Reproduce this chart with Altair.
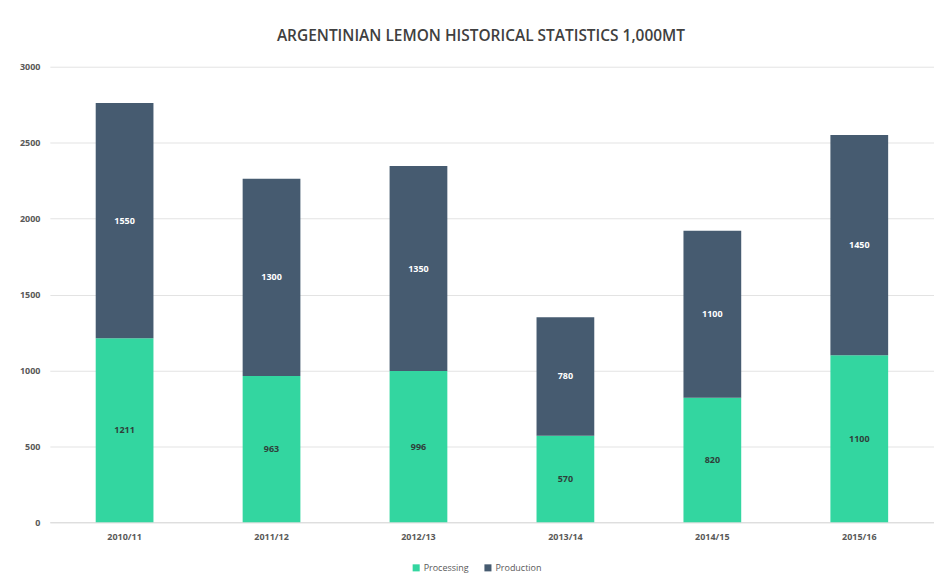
import altair as alt
import pandas as pd

seasons = ["2010/11", "2011/12", "2012/13", "2013/14", "2014/15", "2015/16"]
processing = [1211, 963, 996, 570, 820, 1100]
production = [1550, 1300, 1350, 780, 1100, 1450]
series = ["Processing", "Production"]
colors = ["#33d6a0", "#465b70"]
label_colors = ["#2f3f3a", "#ffffff"]

rows = []
for i, s in enumerate(seasons):
    rows.append({"season": s, "series": series[0], "value": processing[i], "ord": 0})
    rows.append({"season": s, "series": series[1], "value": production[i], "ord": 1})
df = pd.DataFrame(rows)

FONT = "Open Sans"

base = alt.Chart(df).transform_stack(
    stack="value", groupby=["season"], as_=["v0", "v1"], sort=[alt.SortField("ord")]
).transform_calculate(mid="(datum.v0 + datum.v1) / 2")

x = alt.X("season:N", sort=seasons, title=None,
          scale=alt.Scale(paddingInner=0.607, paddingOuter=0.312),
          axis=alt.Axis(labelAngle=0, ticks=False, domain=True, domainColor="#d9d9d9",
                        labelFont=FONT, labelFontSize=9, labelFontWeight="bold",
                        labelColor="#595959", labelPadding=10))

bars = base.mark_bar().encode(
    x=x,
    y=alt.Y("v0:Q", title=None,
            scale=alt.Scale(domain=[0, 3000], nice=False),
            axis=alt.Axis(values=[0, 500, 1000, 1500, 2000, 2500, 3000], ticks=False,
                          format="d",
                          domain=False, gridColor="#e3e3e3", labelFont=FONT,
                          labelFontSize=9, labelFontWeight="bold", labelColor="#595959",
                          labelPadding=10)),
    y2="v1:Q",
    color=alt.Color("series:N", sort=series,
                    scale=alt.Scale(domain=series, range=colors),
                    legend=alt.Legend(title=None, orient="none", direction="horizontal",
                                      legendX=363, legendY=498, symbolType="square",
                                      symbolSize=50, labelFont=FONT, labelFontSize=9,
                                      labelColor="#595959", symbolStrokeWidth=0,
                                      columnPadding=14, labelOffset=3)),
)

text = base.mark_text(font=FONT, fontSize=9, fontWeight="bold").encode(
    x=alt.X("season:N", sort=seasons),
    y=alt.Y("mid:Q"),
    text=alt.Text("value:Q"),
    color=alt.Color("series:N", scale=alt.Scale(domain=series, range=label_colors), legend=None),
)

chart = alt.layer(bars, text).resolve_scale(color="independent").properties(
    width=887, height=457,
    autosize=alt.AutoSizeParams(type="none"),
    padding={"left": 42, "top": 58, "right": 0, "bottom": 52},
    title=alt.TitleParams("ARGENTINIAN LEMON HISTORICAL STATISTICS 1,000MT", font=FONT,
                          fontSize=15.5, fontWeight=600, color="#404040", offset=18,
                          anchor="middle", dx=-11),
).configure_view(stroke=None)

chart.save("out.html", embed_options={"renderer": "svg", "actions": False})
